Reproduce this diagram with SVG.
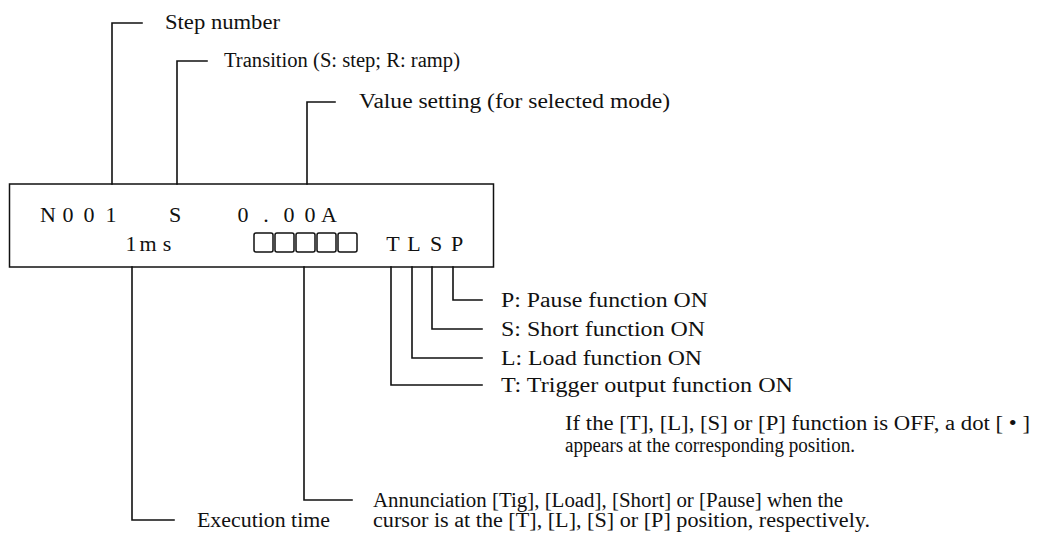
<svg xmlns="http://www.w3.org/2000/svg" width="1042" height="542" viewBox="0 0 1042 542">
<style>
.ln{fill:none;stroke:#111;stroke-width:1.6;stroke-linecap:square}
.lb{font-family:"Liberation Serif","Times New Roman",serif;font-size:20px;fill:#111}
.dp{font-family:"Liberation Serif","Times New Roman",serif;font-size:22px;fill:#111;text-anchor:middle}
.bx{fill:none;stroke:#111;stroke-width:1.5}
</style>
<rect width="1042" height="542" fill="#fff"/>
<g id="display">
<rect class="bx" x="9.5" y="184" width="484" height="83"/>
<text class="dp" x="48 68 89 111" y="222">N001</text>
<text class="dp" x="175" y="222">S</text>
<text class="dp" x="243 266 289 310 329" y="222">0.00A</text>
<text class="dp" x="131 148 167" y="251">1ms</text>
<g class="bx">
<rect x="254" y="233" width="19" height="19" rx="2"/>
<rect x="275" y="233" width="19" height="19" rx="2"/>
<rect x="296" y="233" width="19" height="19" rx="2"/>
<rect x="317" y="233" width="19" height="19" rx="2"/>
<rect x="338" y="233" width="19" height="19" rx="2"/>
</g>
<text class="dp" x="393 414 436 457" y="251">TLSP</text>
</g>
<g id="connectors">
<path class="ln" d="M112 184V23H142"/>
<path class="ln" d="M177 184V61H207"/>
<path class="ln" d="M307 184V102H335"/>
<path class="ln" d="M132 267V520H174"/>
<path class="ln" d="M304 267V500H352"/>
<path class="ln" d="M391 267V385H482"/>
<path class="ln" d="M412 267V358H482"/>
<path class="ln" d="M432 267V329H482"/>
<path class="ln" d="M453 267V300H482"/>
</g>
<g id="label-step"><text class="lb" x="165" y="29" textLength="115" lengthAdjust="spacingAndGlyphs">Step number</text></g>
<g id="label-transition"><text class="lb" x="224" y="67" textLength="236" lengthAdjust="spacingAndGlyphs">Transition (S: step; R: ramp)</text></g>
<g id="label-value"><text class="lb" x="359" y="108" textLength="311" lengthAdjust="spacingAndGlyphs">Value setting (for selected mode)</text></g>
<g id="label-p"><text class="lb" x="501" y="307" textLength="207" lengthAdjust="spacingAndGlyphs">P: Pause function ON</text></g>
<g id="label-s"><text class="lb" x="501" y="336" textLength="204" lengthAdjust="spacingAndGlyphs">S: Short function ON</text></g>
<g id="label-l"><text class="lb" x="501" y="365" textLength="201" lengthAdjust="spacingAndGlyphs">L: Load function ON</text></g>
<g id="label-t"><text class="lb" x="501" y="392" textLength="292" lengthAdjust="spacingAndGlyphs">T: Trigger output function ON</text></g>
<g id="note-off">
<text class="lb" x="565" y="430" textLength="465" lengthAdjust="spacingAndGlyphs">If the [T], [L], [S] or [P] function is OFF, a dot [ • ]</text>
<text class="lb" x="565" y="452" textLength="290" lengthAdjust="spacingAndGlyphs">appears at the corresponding position.</text>
</g>
<g id="label-annunciation">
<text class="lb" x="373" y="507" textLength="470" lengthAdjust="spacingAndGlyphs">Annunciation [Tig], [Load], [Short] or [Pause] when the</text>
<text class="lb" x="373" y="527" textLength="497" lengthAdjust="spacingAndGlyphs">cursor is at the [T], [L], [S] or [P] position, respectively.</text>
</g>
<g id="label-exec"><text class="lb" x="197" y="527" textLength="133" lengthAdjust="spacingAndGlyphs">Execution time</text></g>
</svg>
